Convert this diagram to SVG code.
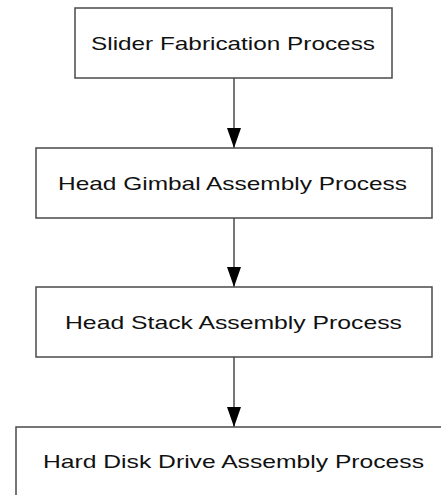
<svg xmlns="http://www.w3.org/2000/svg" width="441" height="495" viewBox="0 0 441 495">
<defs>
<style>
.box{fill:#fff;stroke:#4a4a4a;stroke-width:1.5}
.lbl{font-family:"Liberation Sans",Arial,sans-serif;font-size:19px;fill:#111}
.conn{stroke:#4a4a4a;stroke-width:1.5;fill:none}
</style>
<marker id="ah" markerUnits="userSpaceOnUse" markerWidth="20" markerHeight="14" refX="20" refY="7" orient="auto" viewBox="0 0 20 14">
<path d="M0,0 L20,7 L0,14 Z" fill="#000"/>
</marker>
</defs>
<rect width="441" height="495" fill="#fff"/>
<g id="connectors">
<path class="conn" d="M234,78 V148" marker-end="url(#ah)"/>
<path class="conn" d="M234,218 V287" marker-end="url(#ah)"/>
<path class="conn" d="M234,357 V427" marker-end="url(#ah)"/>
</g>
<g id="n1">
<rect class="box" x="75" y="8" width="317" height="70"/>
<text class="lbl" x="91" y="49.5" textLength="284" lengthAdjust="spacingAndGlyphs">Slider Fabrication Process</text>
</g>
<g id="n2">
<rect class="box" x="36" y="148" width="396" height="70"/>
<text class="lbl" x="58" y="189.5" textLength="349" lengthAdjust="spacingAndGlyphs">Head Gimbal Assembly Process</text>
</g>
<g id="n3">
<rect class="box" x="36" y="287" width="396" height="70"/>
<text class="lbl" x="65" y="328.5" textLength="337" lengthAdjust="spacingAndGlyphs">Head Stack Assembly Process</text>
</g>
<g id="n4">
<rect class="box" x="16" y="427" width="460" height="100"/>
<text class="lbl" x="43" y="467.5" textLength="381" lengthAdjust="spacingAndGlyphs">Hard Disk Drive Assembly Process</text>
</g>
</svg>
